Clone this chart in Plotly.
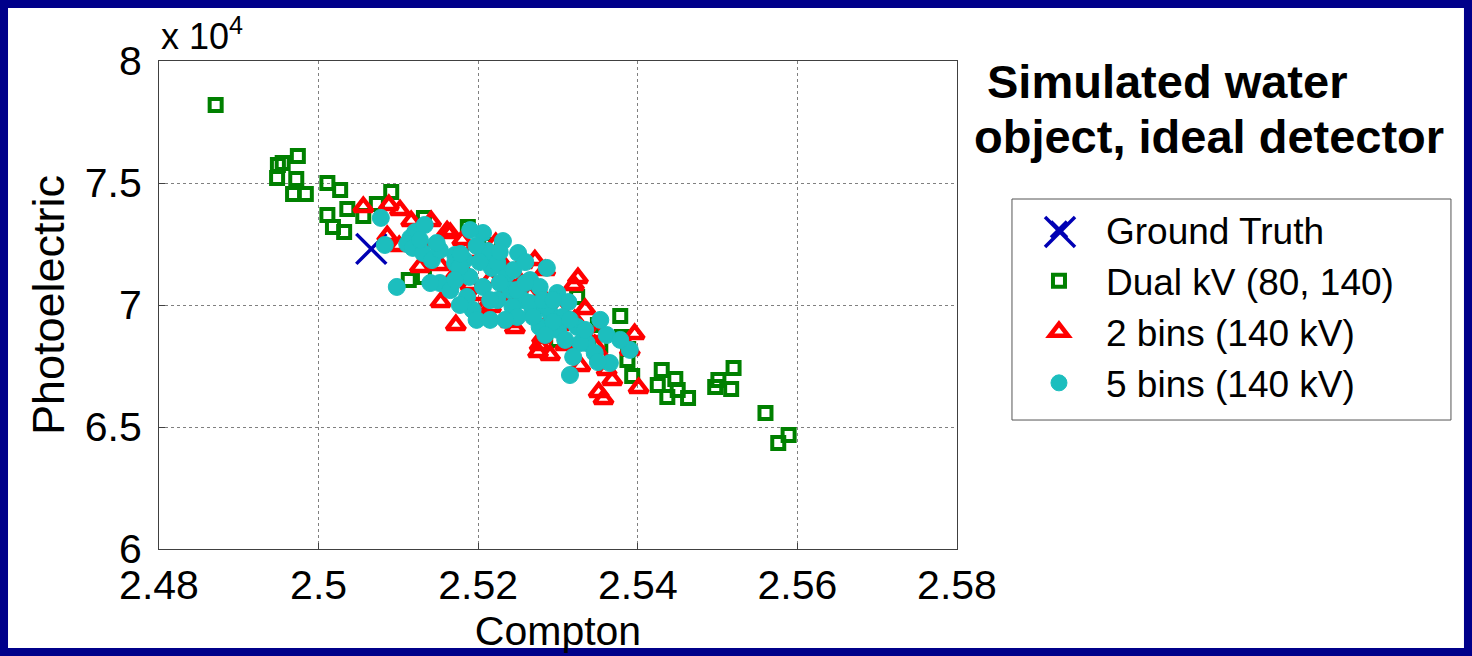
import plotly.graph_objects as go

# Estimated Compton / photoelectric coefficients for a simulated water object
truth_compton = [2.5066]
truth_photo = [72300]

dual_compton = [2.4871, 2.4948, 2.4949, 2.4955, 2.4974, 2.4972, 2.4968, 2.4984, 2.5011, 2.5027,
                2.5011, 2.5018, 2.5032, 2.5036, 2.5056, 2.5073, 2.5091, 2.5132, 2.5187, 2.5113,
                2.5132, 2.5215, 2.5324, 2.5378, 2.5350, 2.5299, 2.5380, 2.5388, 2.5387, 2.5393,
                2.5430, 2.5447, 2.5425, 2.5437, 2.5450, 2.5463, 2.5497, 2.5501, 2.5520, 2.5517,
                2.5560, 2.5576, 2.5589, 2.5177, 2.5234, 2.5277, 2.5353]
dual_photo = [78200, 75200, 75740, 75820, 76110, 75160, 74550, 74550, 75000, 74710,
              73690, 73200, 72990, 73930, 73650, 74140, 74630, 73570, 73200, 71020,
              71150, 72460, 70330, 69550, 69180, 68570, 68690, 68200, 67750, 67090,
              67340, 66970, 66720, 66230, 66520, 66190, 66640, 66930, 67420, 66560,
              65570, 64340, 64670, 71840, 70820, 69470, 68360]

bins2_compton = [2.5056, 2.5088, 2.5102, 2.5116, 2.5141, 2.5161, 2.5086, 2.5101, 2.5127, 2.5153,
                 2.5172, 2.5180, 2.5190, 2.5227, 2.5181, 2.5256, 2.5325, 2.5320, 2.5334, 2.5396,
                 2.5401, 2.5351, 2.5357, 2.5328, 2.5290, 2.5277, 2.5275, 2.5246, 2.5216, 2.5206,
                 2.5240, 2.5280, 2.5361, 2.5390, 2.5349, 2.5248, 2.5165, 2.5290, 2.5222, 2.5190,
                 2.5265, 2.5284, 2.5302, 2.5171, 2.5234, 2.5215, 2.5309, 2.5140, 2.5152, 2.5302,
                 2.5321, 2.5346, 2.5252, 2.5271, 2.5284, 2.5202, 2.5353, 2.5368]
bins2_photo = [74020, 74100, 73890, 73440, 73440, 73030, 72830, 72420, 71560, 70120,
               69180, 72660, 72130, 71840, 71430, 71720, 71110, 70820, 69840, 68810,
               66600, 66430, 66150, 67500, 67950, 68360, 68070, 69060, 69920, 69800,
               69300, 68650, 67340, 68160, 68850, 71150, 72950, 69390, 72540, 70820,
               70410, 70200, 69180, 71230, 70410, 71020, 68360, 72250, 71640, 69800,
               69390, 68360, 70820, 71840, 71430, 70410, 67950, 66930]

bins5_compton = [2.5078, 2.5083, 2.5098, 2.5121, 2.5133, 2.5115, 2.5111, 2.5118, 2.5131, 2.5142,
                 2.5152, 2.5171, 2.5171, 2.5183, 2.5176, 2.5206, 2.5231, 2.5250, 2.5286, 2.5212,
                 2.5198, 2.5214, 2.5217, 2.5236, 2.5189, 2.5177, 2.5206, 2.5240, 2.5265, 2.5277,
                 2.5256, 2.5299, 2.5313, 2.5243, 2.5268, 2.5290, 2.5306, 2.5324, 2.5193, 2.5198,
                 2.5277, 2.5300, 2.5361, 2.5152, 2.5165, 2.5186, 2.5224, 2.5244, 2.5227, 2.5248,
                 2.5265, 2.5286, 2.5315, 2.5336, 2.5346, 2.5365, 2.5390, 2.5315, 2.5269, 2.5294,
                 2.5249, 2.5328, 2.5319, 2.5281, 2.5140, 2.5178, 2.5224, 2.5215, 2.5127, 2.5148,
                 2.5190, 2.5227, 2.5259, 2.5202, 2.5171, 2.5259, 2.5294, 2.5334, 2.5353, 2.5309,
                 2.5284, 2.5350, 2.5378, 2.5215, 2.5177, 2.5234]
bins5_photo = [73570, 72460, 70740, 72990, 73280, 72750, 72500, 72340, 72130, 71840,
               72250, 72050, 71720, 71840, 71560, 72950, 72620, 72130, 71520, 72210,
               72420, 72050, 71520, 71270, 71150, 71560, 70740, 70610, 71020, 70740,
               70200, 70490, 70120, 69920, 69800, 69670, 69510, 69100, 69800, 69390,
               69100, 68980, 68770, 70900, 70610, 70330, 71720, 71430, 70900, 70610,
               70080, 69920, 69390, 68440, 68030, 67620, 68160, 67130, 69510, 69300,
               69510, 68440, 67870, 70200, 70900, 72090, 70200, 69390, 72660, 72540,
               73070, 72170, 71760, 71760, 71020, 70900, 70200, 68980, 69390, 68570,
               68770, 67660, 68570, 70200, 70000, 69390]

x_ticks = [2.48, 2.50, 2.52, 2.54, 2.56, 2.58]
x_tick_text = ["2.48", "2.5", "2.52", "2.54", "2.56", "2.58"]
y_ticks = [60000, 65000, 70000, 75000, 80000]
y_tick_text = ["6", "6.5", "7", "7.5", "8"]

FONT = "Liberation Sans, Arial, sans-serif"
NAVY = "#00008A"
AXIS_GREY = "#404040"
TRUTH_BLUE = "#0000B4"

fig = go.Figure()
fig.add_trace(go.Scatter(
    x=truth_compton, y=truth_photo, mode="markers", name="Ground Truth",
    marker=dict(symbol="x-thin", size=30, color=TRUTH_BLUE, line=dict(color=TRUTH_BLUE, width=3.5)),
))
fig.add_trace(go.Scatter(
    x=dual_compton, y=dual_photo, mode="markers", name="Dual kV (80, 140)",
    marker=dict(symbol="square-open", size=12, color="#008000", line=dict(color="#008000", width=4)),
))
fig.add_trace(go.Scatter(
    x=bins2_compton, y=bins2_photo, mode="markers", name="2 bins (140 kV)",
    marker=dict(symbol="triangle-up-open", size=16, color="#FF0000", line=dict(color="#FF0000", width=4.5)),
))
fig.add_trace(go.Scatter(
    x=bins5_compton, y=bins5_photo, mode="markers", name="5 bins (140 kV)",
    marker=dict(symbol="circle", size=17, color="#1CBEBE", line=dict(color="#1CBEBE", width=1)),
))

axis_common = dict(
    showline=True, mirror=True, linecolor=AXIS_GREY, linewidth=1,
    ticks="inside", ticklen=6, tickcolor=AXIS_GREY,
    showgrid=True, gridcolor="#808080", griddash="dot", gridwidth=1,
    zeroline=False, tickfont=dict(family=FONT, size=41, color="black"),
)

fig.update_xaxes(range=[2.48, 2.58], tickvals=x_ticks, ticktext=x_tick_text,
                 title=dict(text="Compton", font=dict(family=FONT, size=41, color="black"), standoff=0),
                 ticklabelstandoff=0, **axis_common)
fig.update_yaxes(range=[60000, 80000], tickvals=y_ticks, ticktext=y_tick_text,
                 title=dict(text="Photoelectric", font=dict(family=FONT, size=45, color="black"), standoff=6),
                 ticklabelstandoff=8, **axis_common)

# white slide panel inside the navy frame
fig.add_shape(type="rect", xref="paper", yref="paper", layer="below",
              x0=-0.1892, x1=1.6353, y0=-0.2029, y1=1.1086,
              fillcolor="white", line=dict(width=0))
# legend frame
fig.add_shape(type="rect", xref="paper", yref="paper", layer="below",
              x0=1.0689, x1=1.6190, y0=0.2643, y1=0.7172,
              fillcolor="white", line=dict(color="#555555", width=1))
# full-size cross for the "Ground Truth" legend key
for (xa, ya, xb, yb) in [(1.1103, 0.6803, 1.1479, 0.6189), (1.1103, 0.6189, 1.1479, 0.6803)]:
    fig.add_shape(type="line", xref="paper", yref="paper", layer="above",
                  x0=xa, y0=ya, x1=xb, y1=yb, line=dict(color=TRUTH_BLUE, width=3.5))

fig.add_annotation(xref="paper", yref="paper", x=0.0, y=1.005, xanchor="left", yanchor="bottom",
                   text="x 10<sup>4</sup>", showarrow=False,
                   font=dict(family=FONT, size=36, color="black"))
fig.add_annotation(xref="paper", yref="paper", x=1.0351, y=0.957, xanchor="left", yanchor="middle",
                   showarrow=False, text="<b>Simulated water</b>",
                   font=dict(family=FONT, size=47, color="black"))
fig.add_annotation(xref="paper", yref="paper", x=1.0188, y=0.8443, xanchor="left", yanchor="middle",
                   showarrow=False, text="<b>object, ideal detector</b>",
                   font=dict(family=FONT, size=47, color="black"))

fig.update_layout(
    width=1472, height=656,
    margin=dict(l=159, r=515, t=61, b=107),
    paper_bgcolor=NAVY, plot_bgcolor="white",
    showlegend=True,
    legend=dict(x=1.0689, y=0.7172, xanchor="left", yanchor="top",
                bgcolor="rgba(0,0,0,0)", borderwidth=0,
                font=dict(family=FONT, size=37, color="black"),
                itemsizing="trace", itemwidth=84),
)

fig.write_html("out.html")
